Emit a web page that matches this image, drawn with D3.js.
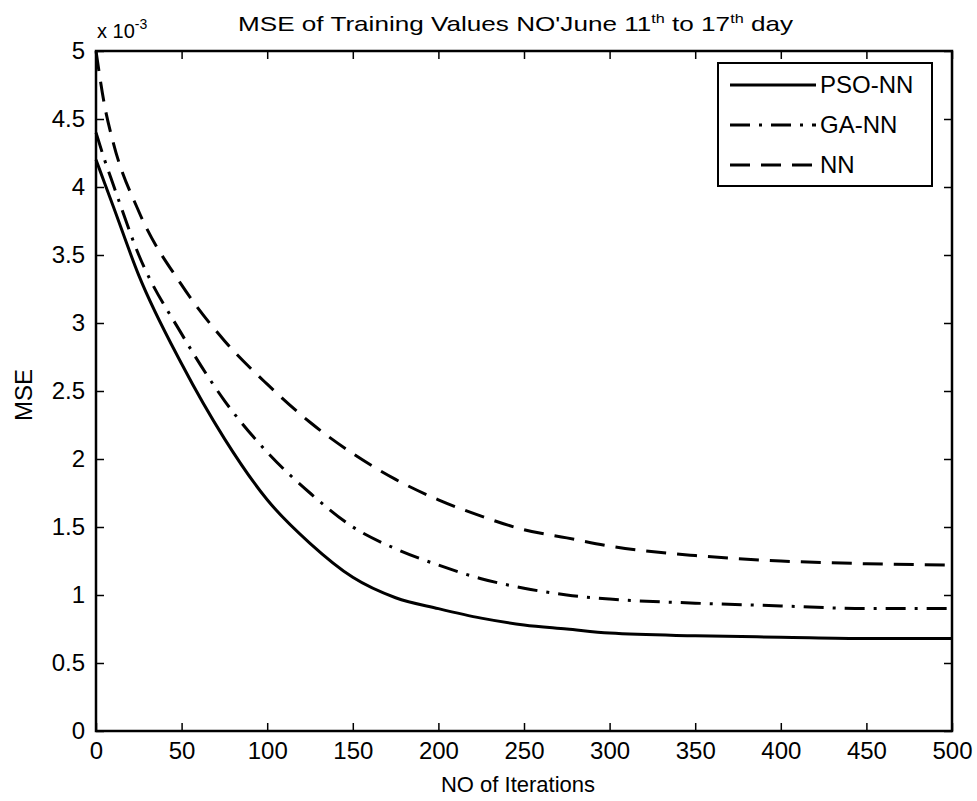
<!DOCTYPE html>
<html><head><meta charset="utf-8">
<script src="https://cdn.jsdelivr.net/npm/d3@7"></script>
<style>body{margin:0;background:#fff}svg{display:block}</style>
</head><body>
<svg id="c" width="977" height="801"></svg>
<script>
const iterations = [0,5,10,25,50,75,100,125,150,175,200,225,250,275,300,350,400,450,500];
const psoNN = [4.2,4.03,3.86,3.35,2.7,2.15,1.7,1.38,1.13,0.98,0.9,0.83,0.78,0.75,0.72,0.7,0.69,0.68,0.68];
const gaNN  = [4.4,4.2,4.02,3.5,2.92,2.43,2.05,1.75,1.5,1.34,1.22,1.12,1.05,1.0,0.97,0.94,0.92,0.9,0.9];
const nn    = [5.0,4.6,4.33,3.82,3.28,2.87,2.55,2.27,2.04,1.85,1.7,1.58,1.48,1.42,1.36,1.29,1.25,1.23,1.22];
const seriesNames = ["PSO-NN","GA-NN","NN"];
const xTicks = [0,50,100,150,200,250,300,350,400,450,500];
const yTicks = [0,0.5,1,1.5,2,2.5,3,3.5,4,4.5,5];

const svg = d3.select("#c");
const L=96,R=952,T=51,B=731;
const x = d3.scaleLinear().domain([0,500]).range([L,R]);
const y = d3.scaleLinear().domain([0,5]).range([B,T]);
const font = "'Liberation Sans', Arial, sans-serif";

const tickLen = 8;
svg.append("g").attr("transform",`translate(0,${B})`)
  .call(d3.axisBottom(x).tickValues(xTicks).tickSize(-tickLen).tickPadding(11).tickFormat(d3.format("d")))
  .call(g=>g.select(".domain").remove());
svg.append("g").attr("transform",`translate(0,${T})`)
  .call(d3.axisTop(x).tickValues(xTicks).tickSize(-tickLen).tickFormat(""))
  .call(g=>g.select(".domain").remove());
svg.append("g").attr("transform",`translate(${L},0)`)
  .call(d3.axisLeft(y).tickValues(yTicks).tickSize(-tickLen).tickPadding(11).tickFormat(d=>String(d)))
  .call(g=>g.select(".domain").remove());
svg.append("g").attr("transform",`translate(${R},0)`)
  .call(d3.axisRight(y).tickValues(yTicks).tickSize(-tickLen).tickFormat(""))
  .call(g=>g.select(".domain").remove());
svg.selectAll(".tick line").attr("stroke","#000").attr("stroke-width",1.5);
svg.selectAll(".tick text").attr("font-family",font).attr("font-size",24).attr("fill","#000");

svg.append("rect").attr("x",L).attr("y",T).attr("width",R-L).attr("height",B-T)
  .attr("fill","none").attr("stroke","#000").attr("stroke-width",2.5);

const styles = [
  {data:psoNN, dash:null},
  {data:gaNN, dash:"20,9,3,9"},
  {data:nn, dash:"20,11"}
];
const line = d3.line().x((d,i)=>x(iterations[i])).y(d=>y(d)).curve(d3.curveMonotoneX);
styles.forEach(s=>{
  svg.append("path").attr("d",line(s.data)).attr("fill","none").attr("stroke","#000")
    .attr("stroke-width",3).attr("stroke-dasharray",s.dash);
});

const lg = svg.append("g");
const lgX=718, lgY=63, lgW=214, lgH=123;
lg.append("rect").attr("x",lgX).attr("y",lgY).attr("width",lgW).attr("height",lgH)
  .attr("fill","#fff").attr("stroke","#000").attr("stroke-width",2);
seriesNames.forEach((n,i)=>{
  const yy = lgY+22+i*40;
  lg.append("line").attr("x1",lgX+12).attr("x2",lgX+98).attr("y1",yy).attr("y2",yy)
    .attr("stroke","#000").attr("stroke-width",3).attr("stroke-dasharray",styles[i].dash);
  lg.append("text").attr("x",lgX+102).attr("y",yy).attr("dy","0.35em").text(n)
    .attr("font-family",font).attr("font-size",24);
});

svg.append("text").attr("x",238).attr("y",31)
  .attr("font-family",font).attr("font-size",21)
  .attr("textLength",555).attr("lengthAdjust","spacingAndGlyphs")
  .html("MSE of Training Values NO'June 11<tspan dy='-8' font-size='13'>th</tspan><tspan dy='8'> to 17</tspan><tspan dy='-8' font-size='13'>th</tspan><tspan dy='8'> day</tspan>");
svg.append("text").attr("x",97).attr("y",38).attr("font-family",font).attr("font-size",20)
  .html("x 10<tspan dy='-9' font-size='14'>-3</tspan>");
svg.append("text").attr("x",518).attr("y",792).attr("text-anchor","middle")
  .attr("font-family",font).attr("font-size",22).text("NO of Iterations");
svg.append("text").attr("transform","translate(32,395) rotate(-90)").attr("text-anchor","middle")
  .attr("font-family",font).attr("font-size",24).text("MSE");
</script>
</body></html>
